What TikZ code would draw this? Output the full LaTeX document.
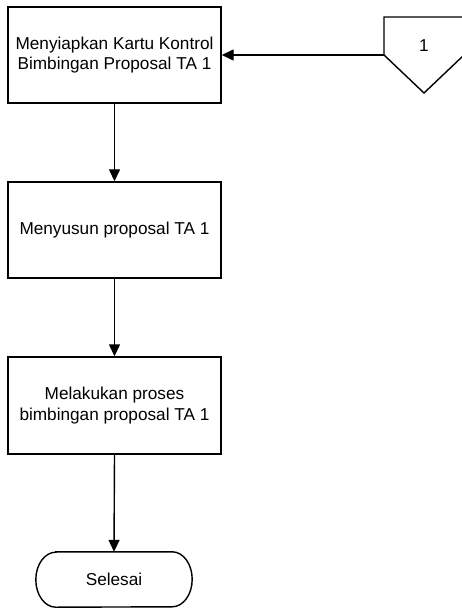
\documentclass[tikz,border=0pt]{standalone}
\usepackage{fontspec}
\setmainfont{Liberation Sans}
\usetikzlibrary{arrows.meta}
\begin{document}
\begin{tikzpicture}[x=1pt,y=-1pt,
  proc/.style={draw, line width=1.4pt, minimum width=213pt, minimum height=96pt, align=center, inner sep=0pt, font=\fontsize{17.2}{20.5}\selectfont},
  lbl/.style={font=\fontsize{17.2}{20.5}\selectfont, inner sep=0pt},
  arr/.style={line width=1.4pt, -{Triangle[length=12pt,width=11pt]}}]
\useasboundingbox (0,0) rectangle (461,609);
\node[proc] (b1) at (114.5,55) {Menyiapkan Kartu Kontrol\\Bimbingan Proposal TA 1};
\node[proc] (b2) at (114.5,230) {Menyusun proposal TA 1};
\node[proc, minimum height=97pt] (b3) at (114.5,405.5) {Melakukan proses\\bimbingan proposal TA 1};
% terminator
\node[lbl, minimum width=156pt, minimum height=55pt] (end) at (114,579.5) {Selesai};
\draw[line width=1.4pt] ([xshift=20pt]end.north west) -- ([xshift=-20pt]end.north east)
  arc[start angle=90, end angle=-90, x radius=20pt, y radius=27.5pt]
  -- ([xshift=20pt]end.south west)
  arc[start angle=270, end angle=90, x radius=20pt, y radius=27.5pt] -- cycle;
% off-page connector
\draw[line width=1.4pt] (384,17) -- (464,17) -- (464,55) -- (424,93) -- (384,55) -- cycle;
\node[lbl] (c1t) at (424,46) {1};
\coordinate (c1) at (384,55);
\draw[arr] (c1) -- (b1.east);
\draw[arr] (b1.south) -- (b2.north);
\draw[arr] (b2.south) -- (b3.north);
\draw[arr] (b3.south) -- (end.north);
\end{tikzpicture}
\end{document}
